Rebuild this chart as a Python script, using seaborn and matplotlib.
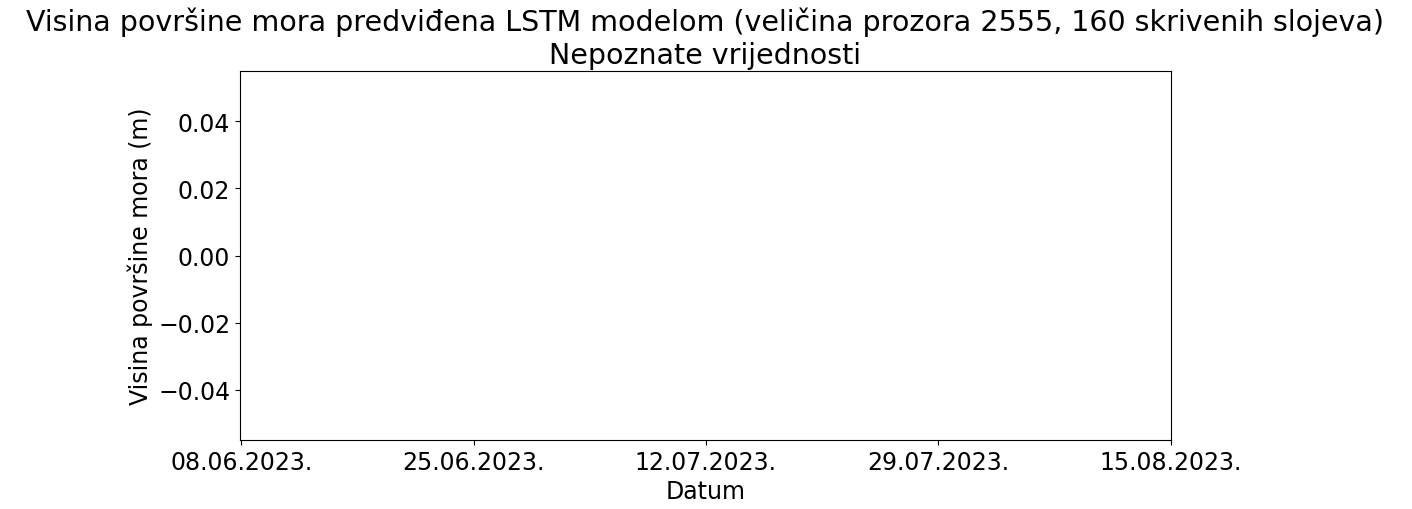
import numpy as np
import pandas as pd
import seaborn as sns
import matplotlib
matplotlib.use('Agg')
import matplotlib.pyplot as plt
import matplotlib.dates as mdates

# data: dates of the unknown period, values are missing
dates = pd.date_range('2023-06-08', '2023-08-15', freq='D')
values = [np.nan] * len(dates)
tick_dates = ['2023-06-08', '2023-06-25', '2023-07-12', '2023-07-29', '2023-08-15']

df = pd.DataFrame({'Datum': dates, 'Visina': values})

sns.set_style('white')
plt.rcParams['font.family'] = ['DejaVu Sans']
plt.rcParams['text.color'] = 'black'
plt.rcParams['axes.labelcolor'] = 'black'
plt.rcParams['xtick.color'] = 'black'
plt.rcParams['ytick.color'] = 'black'
fig, ax = plt.subplots(figsize=(14.12, 5.1), dpi=100)
sns.lineplot(data=df, x='Datum', y='Visina', ax=ax, color='tab:blue')

ax.set_xlim(pd.Timestamp('2023-06-07 22:00'), pd.Timestamp('2023-08-15'))
ax.set_ylim(-0.055, 0.055)
ax.set_xticks(pd.to_datetime(tick_dates))
ax.xaxis.set_major_formatter(mdates.DateFormatter('%d.%m.%Y.'))
ax.tick_params(labelsize=17, bottom=True, left=True, colors='black')
for s in ax.spines.values():
    s.set_color('black')
    s.set_linewidth(0.8)

ax.set_title('Visina površine mora predviđena LSTM modelom (veličina prozora 2555, 160 skrivenih slojeva)\nNepoznate vrijednosti',
             fontsize=20.5, color='black')
ax.set_xlabel('Datum', fontsize=17)
ax.set_ylabel('Visina površine mora (m)', fontsize=17)

fig.subplots_adjust(left=0.17, right=0.829, top=0.859, bottom=0.135)
fig.savefig('out.png', dpi=100)
